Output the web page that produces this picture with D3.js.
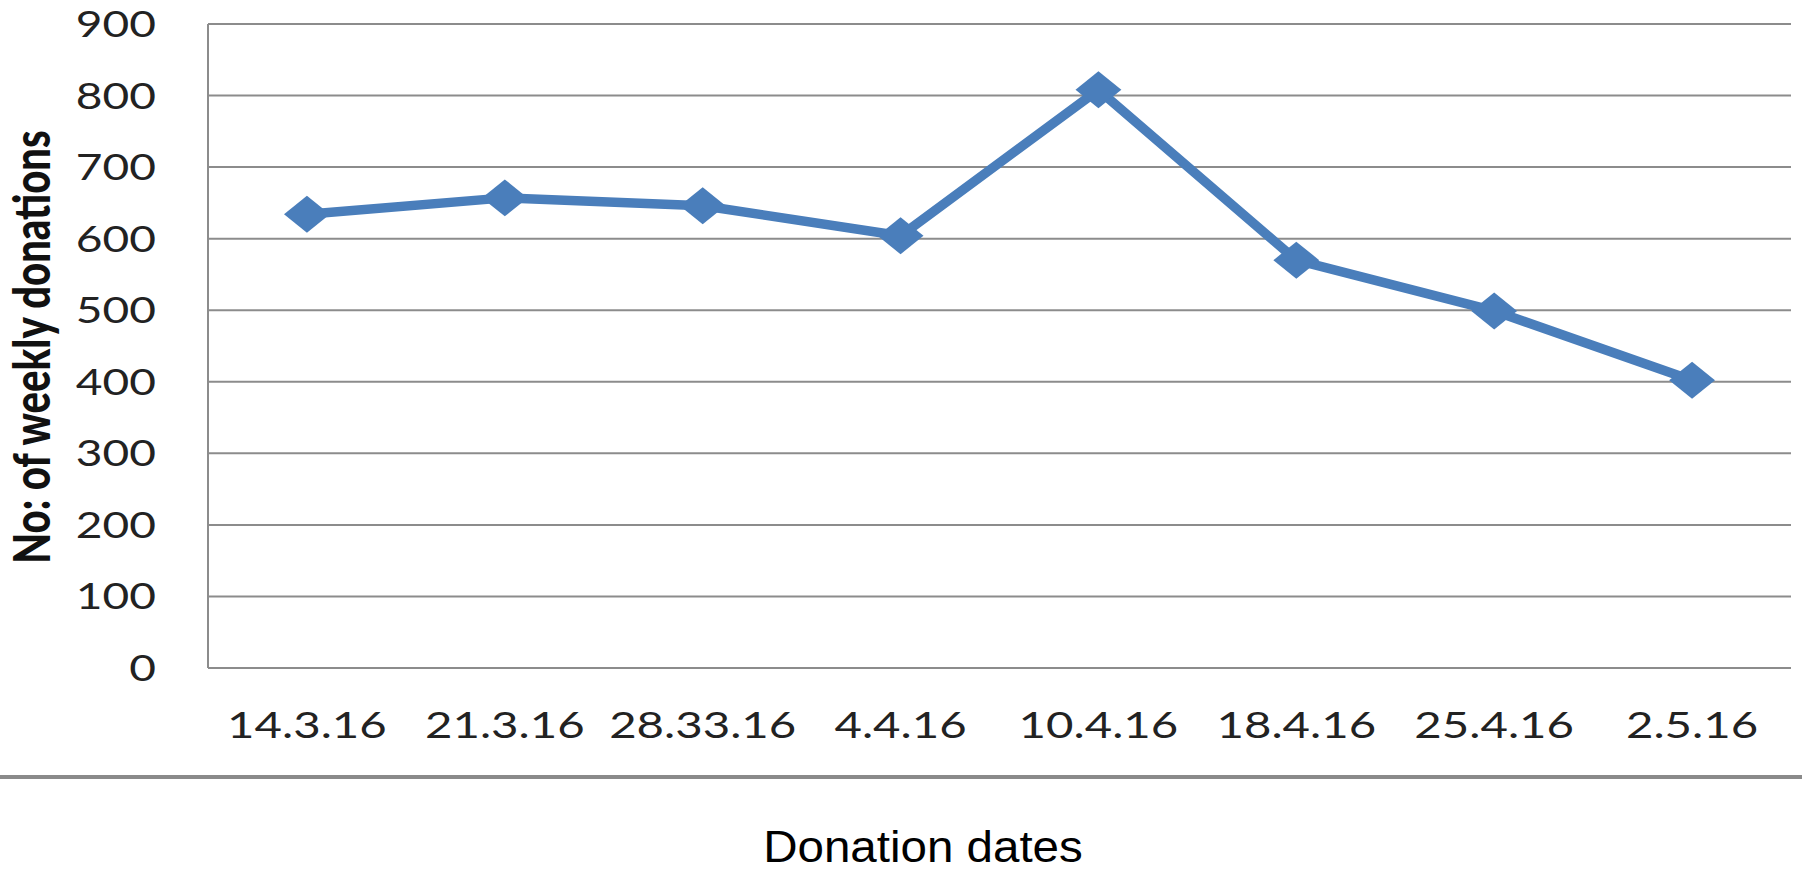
<!DOCTYPE html>
<html>
<head>
<meta charset="utf-8">
<script src="https://cdn.jsdelivr.net/npm/d3@7"></script>
<style>
  html, body { margin: 0; padding: 0; background: #fff; }
  svg { display: block; }
</style>
</head>
<body>
<svg id="chart" width="1802" height="872"></svg>
<script>
// Weekly donation counts
const dates = ["14.3.16", "21.3.16", "28.33.16", "4.4.16", "10.4.16", "18.4.16", "25.4.16", "2.5.16"];
const donations = [634, 657, 646, 604, 808, 570, 499, 402];
const yTicks = [0, 100, 200, 300, 400, 500, 600, 700, 800, 900];

const yTitle = "No: of weekly donations";
const xTitle = "Donation dates";

const W = 1802, H = 872;
const plot = { left: 208, right: 1791, top: 24, bottom: 668 };
const stretch = 1.28;           // wide lettering used throughout
const lineColor = "#4a7ebb";
const gridColor = "#8c8c8c";

const svg = d3.select("#chart");

const x = d3.scaleBand().domain(dates).range([plot.left, plot.right]);
const y = d3.scaleLinear().domain([0, 900]).range([plot.bottom, plot.top]);

// horizontal gridlines
svg.append("g")
  .selectAll("line")
  .data(yTicks)
  .join("line")
  .attr("x1", plot.left)
  .attr("x2", plot.right)
  .attr("y1", d => y(d))
  .attr("y2", d => y(d))
  .attr("stroke", gridColor)
  .attr("stroke-width", 2);

// vertical axis line
svg.append("line")
  .attr("x1", plot.left).attr("x2", plot.left)
  .attr("y1", y(900)).attr("y2", y(0))
  .attr("stroke", gridColor)
  .attr("stroke-width", 2);

// y tick labels
svg.append("g")
  .selectAll("text")
  .data(yTicks)
  .join("text")
  .attr("transform", d => `translate(156,${y(d)}) scale(${stretch},1)`)
  .attr("text-anchor", "end")
  .attr("dy", "0.36em")
  .attr("font-family", "Lato, sans-serif")
  .attr("font-size", 36)
  .attr("fill", "#222")
  .text(d => d);

// x category labels
svg.append("g")
  .selectAll("text")
  .data(dates)
  .join("text")
  .attr("transform", d => `translate(${x(d) + x.bandwidth() / 2},738) scale(${stretch},1)`)
  .attr("text-anchor", "middle")
  .attr("font-family", "Lato, sans-serif")
  .attr("font-size", 37)
  .attr("fill", "#222")
  .text(d => d);

// y axis title
svg.append("text")
  .attr("transform", `translate(32,347) scale(${stretch},1) rotate(-90)`)
  .attr("text-anchor", "middle")
  .attr("dy", "0.36em")
  .attr("font-family", "Lato, sans-serif")
  .attr("font-weight", 900)
  .attr("font-size", 40)
  .attr("fill", "#111")
  .text(yTitle);

// data line
const pts = dates.map((d, i) => [x(d) + x.bandwidth() / 2, y(donations[i])]);
svg.append("path")
  .attr("d", d3.line()(pts))
  .attr("fill", "none")
  .attr("stroke", lineColor)
  .attr("stroke-width", 9.5)
  .attr("stroke-linejoin", "round");

// diamond markers
const diamond = d3.symbol().type(d3.symbolSquare).size(684);
svg.append("g")
  .selectAll("path")
  .data(pts)
  .join("path")
  .attr("d", diamond())
  .attr("transform", p => `translate(${p[0]},${p[1]}) scale(1.24,1) rotate(45)`)
  .attr("fill", lineColor);

// separator under the chart
svg.append("line")
  .attr("x1", 0).attr("x2", W)
  .attr("y1", 777).attr("y2", 777)
  .attr("stroke", "#8a8a8a")
  .attr("stroke-width", 4);

// x axis title
svg.append("text")
  .attr("transform", `translate(923,862) scale(1.08,1)`)
  .attr("text-anchor", "middle")
  .attr("font-family", "'Liberation Sans', Arial, sans-serif")
  .attr("font-size", 44)
  .attr("fill", "#000")
  .text(xTitle);
</script>
</body>
</html>
